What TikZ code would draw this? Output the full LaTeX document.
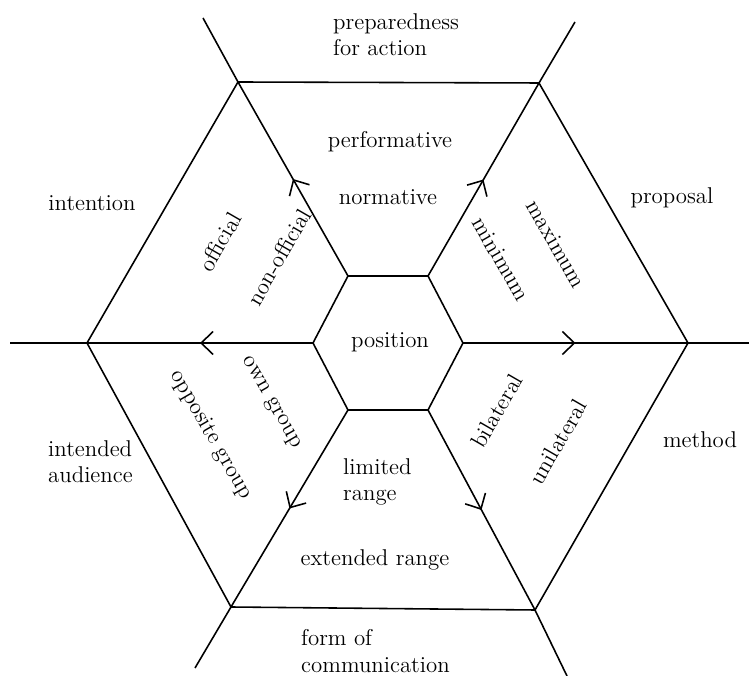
\documentclass[tikz,border=0pt]{standalone}
\usetikzlibrary{arrows.meta,decorations.markings}

\tikzset{
	hexline/.style={line width=0.9pt},
	spoke/.style={hexline, postaction={decorate},
		decoration={markings, mark=at position 0.5 with {\arrow[line width=0.9pt]{Straight Barb[length=2.4mm,width=4.6mm]}}}},
	lbl/.style={font=\fontsize{13}{15}\selectfont, inner sep=0.5pt},
	lbll/.style={lbl, align=left, anchor=west}
}

\begin{document}
\begin{tikzpicture}
	\useasboundingbox (-7.76, -6.66) rectangle (7.22, 6.86);
	% outer hexagon
	\coordinate (otl) at (-3.0, 5.22);
	\coordinate (otr) at (3.02, 5.2);
	\coordinate (or) at (6.0, 0);
	\coordinate (obr) at (2.94, -5.34);
	\coordinate (obl) at (-3.14, -5.28);
	\coordinate (ol) at (-6.02, 0);
	% inner hexagon
	\coordinate (itl) at (-0.8, 1.34);
	\coordinate (itr) at (0.8, 1.34);
	\coordinate (ir) at (1.5, 0);
	\coordinate (ibr) at (0.8, -1.34);
	\coordinate (ibl) at (-0.8, -1.34);
	\coordinate (il) at (-1.5, 0);
	% free ends
	\coordinate (etl) at (-3.7, 6.5);
	\coordinate (etr) at (3.74, 6.42);
	\coordinate (er) at (7.22, 0);
	\coordinate (ebr) at (3.58, -6.66);
	\coordinate (ebl) at (-3.86, -6.5);
	\coordinate (el) at (-7.56, 0);

	\draw[hexline] (otl) -- (otr) -- (or) -- (obr) -- (obl) -- (ol) -- cycle;
	\draw[hexline] (itl) -- (itr) -- (ir) -- (ibr) -- (ibl) -- (il) -- cycle;
	\draw[spoke] (itl) -- (otl);
	\draw[spoke] (itr) -- (otr);
	\draw[spoke] (ir) -- (or);
	\draw[spoke] (ibr) -- (obr);
	\draw[spoke] (ibl) -- (obl);
	\draw[spoke] (il) -- (ol);
	\draw[hexline] (otl) -- (etl);
	\draw[hexline] (otr) -- (etr);
	\draw[hexline] (or) -- (er);
	\draw[hexline] (obr) -- (ebr);
	\draw[hexline] (obl) -- (ebl);
	\draw[hexline] (ol) -- (el);

	% outer labels
	\node[lbll] (prep) at (-1.12, 6.16) {preparedness\\for action};
	\node[lbl] (prop) at (5.68, 2.9) {proposal};
	\node[lbl] (meth) at (6.24, -1.94) {method};
	\node[lbll] (form) at (-1.76, -6.16) {form of\\communication};
	\node[lbll] (aud) at (-6.82, -2.38) {intended\\audience};
	\node[lbl] (intent) at (-5.92, 2.8) {intention};

	% sector labels
	\node[lbl] (perf) at (0.04, 4.02) {performative};
	\node[lbl] (norm) at (0, 2.92) {normative};
	\node[lbl, rotate=-60] (mini) at (2.26, 1.68) {minimum};
	\node[lbl, rotate=-60] (maxi) at (3.36, 1.98) {maximum};
	\node[lbl, rotate=60] (bila) at (2.18, -1.36) {bilateral};
	\node[lbl, rotate=60] (unila) at (3.4, -1.98) {unilateral};
	\node[lbll] (lim) at (-0.92, -2.78) {limited\\range};
	\node[lbl] (ext) at (-0.26, -4.34) {extended range};
	\node[lbl, rotate=-60] (own) at (-2.34, -1.2) {own group};
	\node[lbl, rotate=-60] (opp) at (-3.54, -1.84) {opposite group};
	\node[lbl, rotate=60] (off) at (-3.36, 2.02) {official};
	\node[lbl, rotate=60] (nonoff) at (-2.18, 1.72) {non-official};
	\node[lbl] (pos) at (0.04, 0.02) {position};
\end{tikzpicture}
\end{document}
